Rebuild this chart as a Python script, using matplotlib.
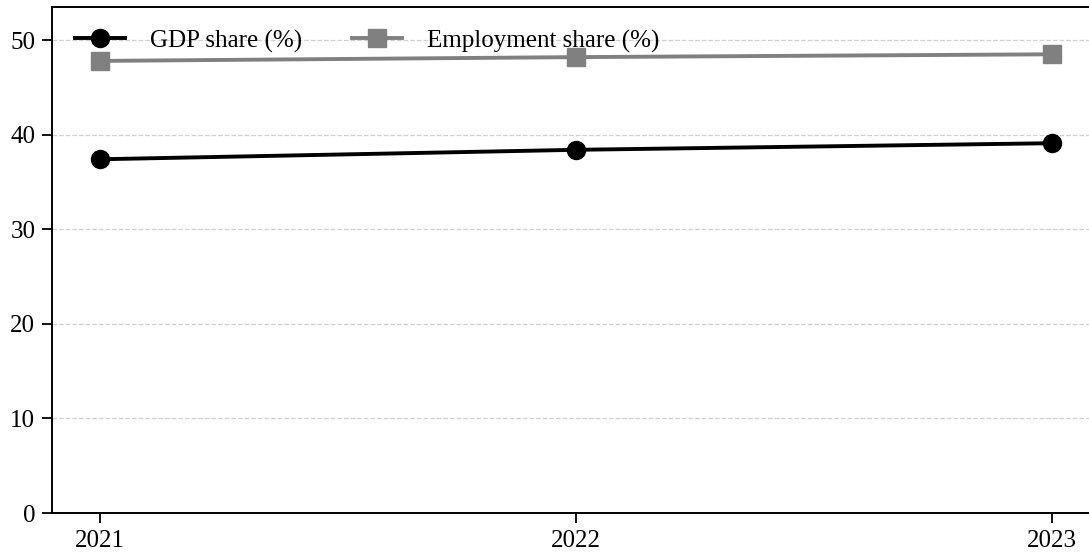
import matplotlib.pyplot as plt

plt.rcParams['font.family'] = ['Liberation Serif', 'DejaVu Serif']

# data
years = [2021, 2022, 2023]
gdp_share = [37.4, 38.4, 39.1]
employment_share = [47.8, 48.2, 48.5]

fig = plt.figure(figsize=(10.89, 5.57), dpi=100)
ax = fig.add_axes([52 / 1089, 44 / 557, 1048 / 1089, 506 / 557])

ax.plot(years, gdp_share, color='black', linewidth=2.8, marker='o', markersize=13,
        label='GDP share (%)')
ax.plot(years, employment_share, color='#808080', linewidth=2.8, marker='s', markersize=13,
        label='Employment share (%)')

ax.set_xlim(2020.9, 2023.1)
ax.set_ylim(0, 53.5)
ax.set_xticks(years)
ax.set_xticklabels([str(y) for y in years])
ax.set_yticks([0, 10, 20, 30, 40, 50])
ax.tick_params(labelsize=18, length=7, width=1.3, pad=5)
ax.grid(axis='y', linestyle='--', color='#d0d0d0', linewidth=0.9)
ax.set_axisbelow(True)
ax.spines['right'].set_visible(False)
for s in ['left', 'bottom', 'top']:
    ax.spines[s].set_linewidth(1.4)

ax.legend(loc='upper left', ncol=2, frameon=False, fontsize=18,
          columnspacing=2.0, handlelength=2.0, handletextpad=1.0)

fig.savefig('out.png', dpi=100)
